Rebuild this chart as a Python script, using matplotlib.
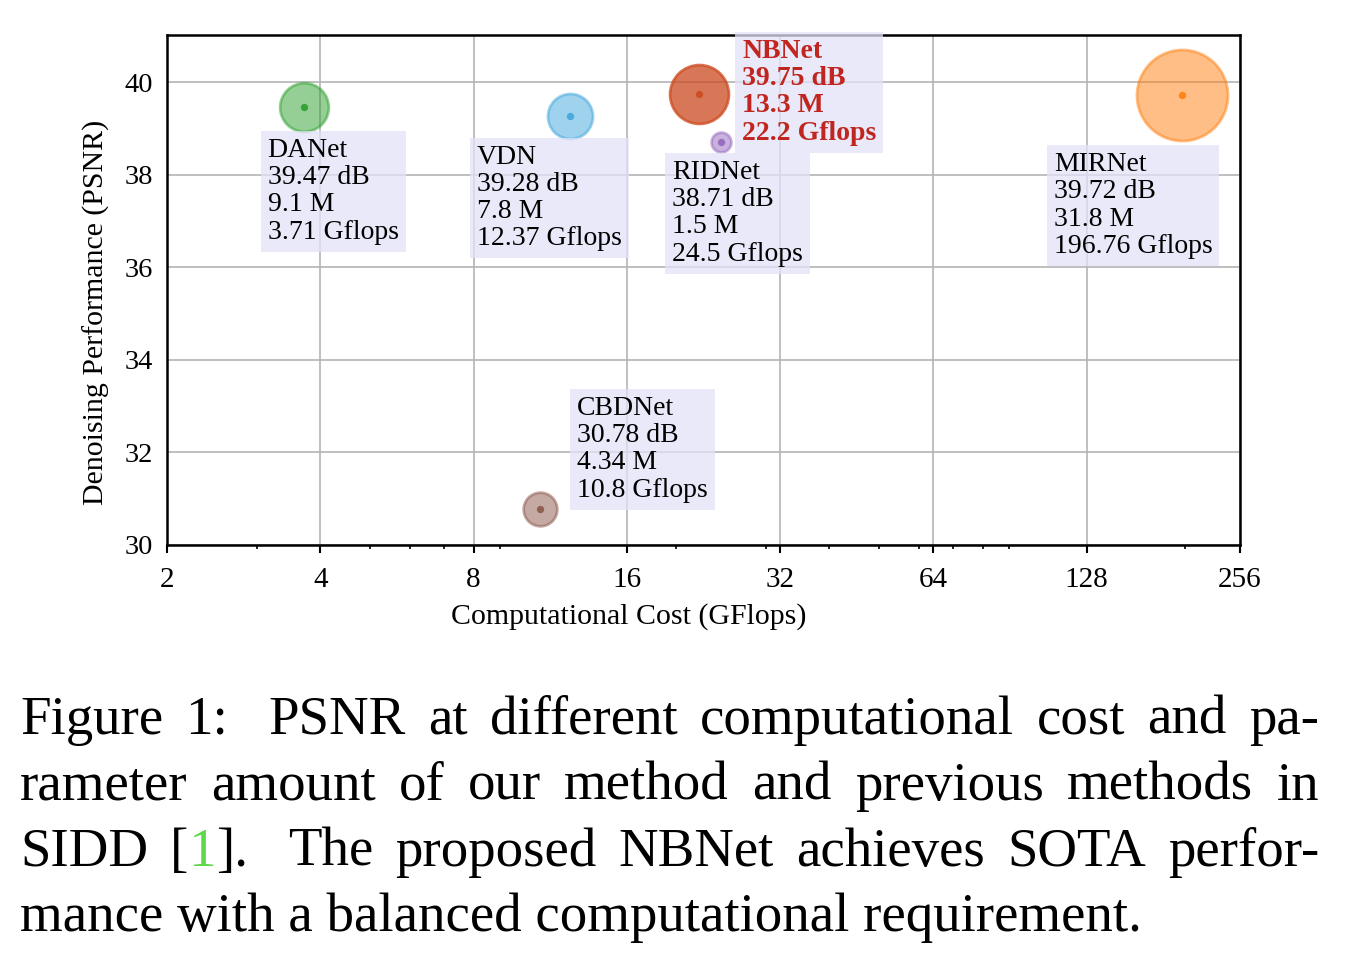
"""
PSNR vs computational cost bubble chart (SIDD), with the figure caption below.
Bubble area is proportional to the parameter count.
"""
import re

import matplotlib
matplotlib.use("Agg")
import matplotlib.pyplot as plt
from matplotlib.ticker import FixedLocator, NullFormatter

plt.rcParams["font.family"] = ["Liberation Serif", "DejaVu Serif"]

# ── data ──────────────────────────────────────────────────────────────
METHODS = ["DANet", "VDN", "RIDNet", "NBNet", "MIRNet", "CBDNet"]
GFLOPS  = [3.71, 12.37, 24.5, 22.2, 196.76, 10.8]
PSNR    = [39.47, 39.28, 38.71, 39.75, 39.72, 30.78]
PARAMS  = [9.1, 7.8, 1.5, 13.3, 31.8, 4.34]          # millions

XTICKS = [2, 4, 8, 16, 32, 64, 128, 256]
XMINOR = [3, 5, 6, 7, 9, 20, 30, 40, 50, 60, 70, 80, 90, 200]
YTICKS = [30, 32, 34, 36, 38, 40]

CAPTION = [
    "Figure 1:  PSNR at different computational cost and pa-",
    "rameter amount of our method and previous methods in",
    "SIDD [1].  The proposed NBNet achieves SOTA perfor-",
    "mance with a balanced computational requirement.",
]

# ── styling ───────────────────────────────────────────────────────────
COLORS = {
    "DANet":  "#2ca02c",
    "VDN":    "#3fa6dc",
    "RIDNet": "#9467bd",
    "NBNet":  "#cc4a1f",
    "MIRNet": "#ff7f0e",
    "CBDNet": "#8c564b",
}
ALPHA = {"NBNet": 0.75}
# text top-left relative to the bubble centre, in pixels
OFFSETS = {
    "DANet":  (-36, -31),
    "VDN":    (-93, -29),
    "RIDNet": (-49, -18),
    "NBNet":  (43, 55),
    "MIRNet": (-128, -57),
    "CBDNet": (37, 113),
}
SIZE_PER_M = 135          # scatter area (pt^2) per million params
LABEL_FS = 20
CITE_GREEN = "#5fd84a"


def draw_caption(fig, lines, x0, x1, baselines, size):
    """Justified caption drawn word by word (last line left aligned)."""
    r = fig.canvas.get_renderer()
    W, H = fig.bbox.width, fig.bbox.height

    def segments(word):
        parts = re.split(r"(?<=\[)(\d+)(?=\])", word)
        return [(p, CITE_GREEN if p.isdigit() and "[" in word else "black")
                for p in parts if p]

    for li, (line, yb) in enumerate(zip(lines, baselines)):
        y = 1 - yb / H
        if li == len(lines) - 1:
            fig.text(x0 / W, y, line, fontsize=size, va="baseline", ha="left")
            continue
        words, gaps = [], []
        wide = False
        for tok in line.split(" "):
            if tok == "":
                wide = True
                continue
            if words:
                gaps.append(1.8 if wide else 1.0)
            wide = False
            words.append(tok)
        items, widths = [], []
        for word in words:
            segs = []
            w = 0.0
            for txt, col in segments(word):
                t = fig.text(0, y, txt, fontsize=size, color=col,
                             va="baseline", ha="left")
                bw = t.get_window_extent(r).width
                segs.append((t, w))
                w += bw
            items.append(segs)
            widths.append(w)
        unit = (x1 - x0 - sum(widths)) / sum(gaps)
        x = x0
        for i, segs in enumerate(items):
            for t, off in segs:
                t.set_x((x + off) / W)
            x += widths[i]
            if i < len(gaps):
                x += gaps[i] * unit


fig = plt.figure(figsize=(13.46, 9.58), dpi=100)
ax = fig.add_axes([167 / 1346, 1 - 545 / 958, 1073 / 1346, 510 / 958])

for name, gx, py, pm in zip(METHODS, GFLOPS, PSNR, PARAMS):
    col = COLORS[name]
    a = ALPHA.get(name, 0.5)
    ax.scatter(gx, py, s=SIZE_PER_M * pm, color=col, alpha=a,
               edgecolors=col, linewidths=2, zorder=3)
    ax.scatter(gx, py, s=28, color=col, alpha=0.9, linewidths=0, zorder=4)

    bold = name == "NBNet"
    label = f"{name}\n{py:.2f} dB\n{pm:g} M\n{gx:g} Gflops"
    ax.annotate(label, (gx, py), xytext=OFFSETS[name], textcoords="offset pixels",
                ha="left", va="top", fontsize=LABEL_FS, linespacing=1.12,
                color="#c0261f" if bold else "black",
                fontweight="bold" if bold else "normal",
                bbox=dict(boxstyle="square,pad=0.25", facecolor="#e2e2f8",
                          edgecolor="none", alpha=0.75),
                zorder=5)

ax.set_xscale("log", base=2)
ax.set_xlim(2, 256)
ax.set_ylim(30, 41.02)
ax.set_xticks(XTICKS, [str(t) for t in XTICKS])
ax.xaxis.set_minor_locator(FixedLocator(XMINOR))
ax.xaxis.set_minor_formatter(NullFormatter())
ax.set_yticks(YTICKS, [str(t) for t in YTICKS])

ax.tick_params(axis="x", which="major", length=6, width=1.5, labelsize=21, pad=10)
ax.tick_params(axis="x", which="minor", length=3.2, width=1.2)
ax.tick_params(axis="y", length=0, labelsize=20.5, pad=10)
ax.grid(True, which="major", color="#b4b4b4", linewidth=1.2)
ax.set_axisbelow(True)
for sp in ax.spines.values():
    sp.set_linewidth(1.8)
    sp.set_color("black")

ax.set_xlabel("Computational Cost (GFlops)", fontsize=21.5)
ax.set_ylabel("Denoising Performance (PSNR)", fontsize=21.5)
ax.xaxis.set_label_coords(0.43, -0.113)
ax.yaxis.set_label_coords(-0.053, 0.457)

fig.canvas.draw()
draw_caption(fig, CAPTION, 20, 1319, [734, 800, 866, 931], 39.5)

fig.savefig("out.png", dpi=100)
